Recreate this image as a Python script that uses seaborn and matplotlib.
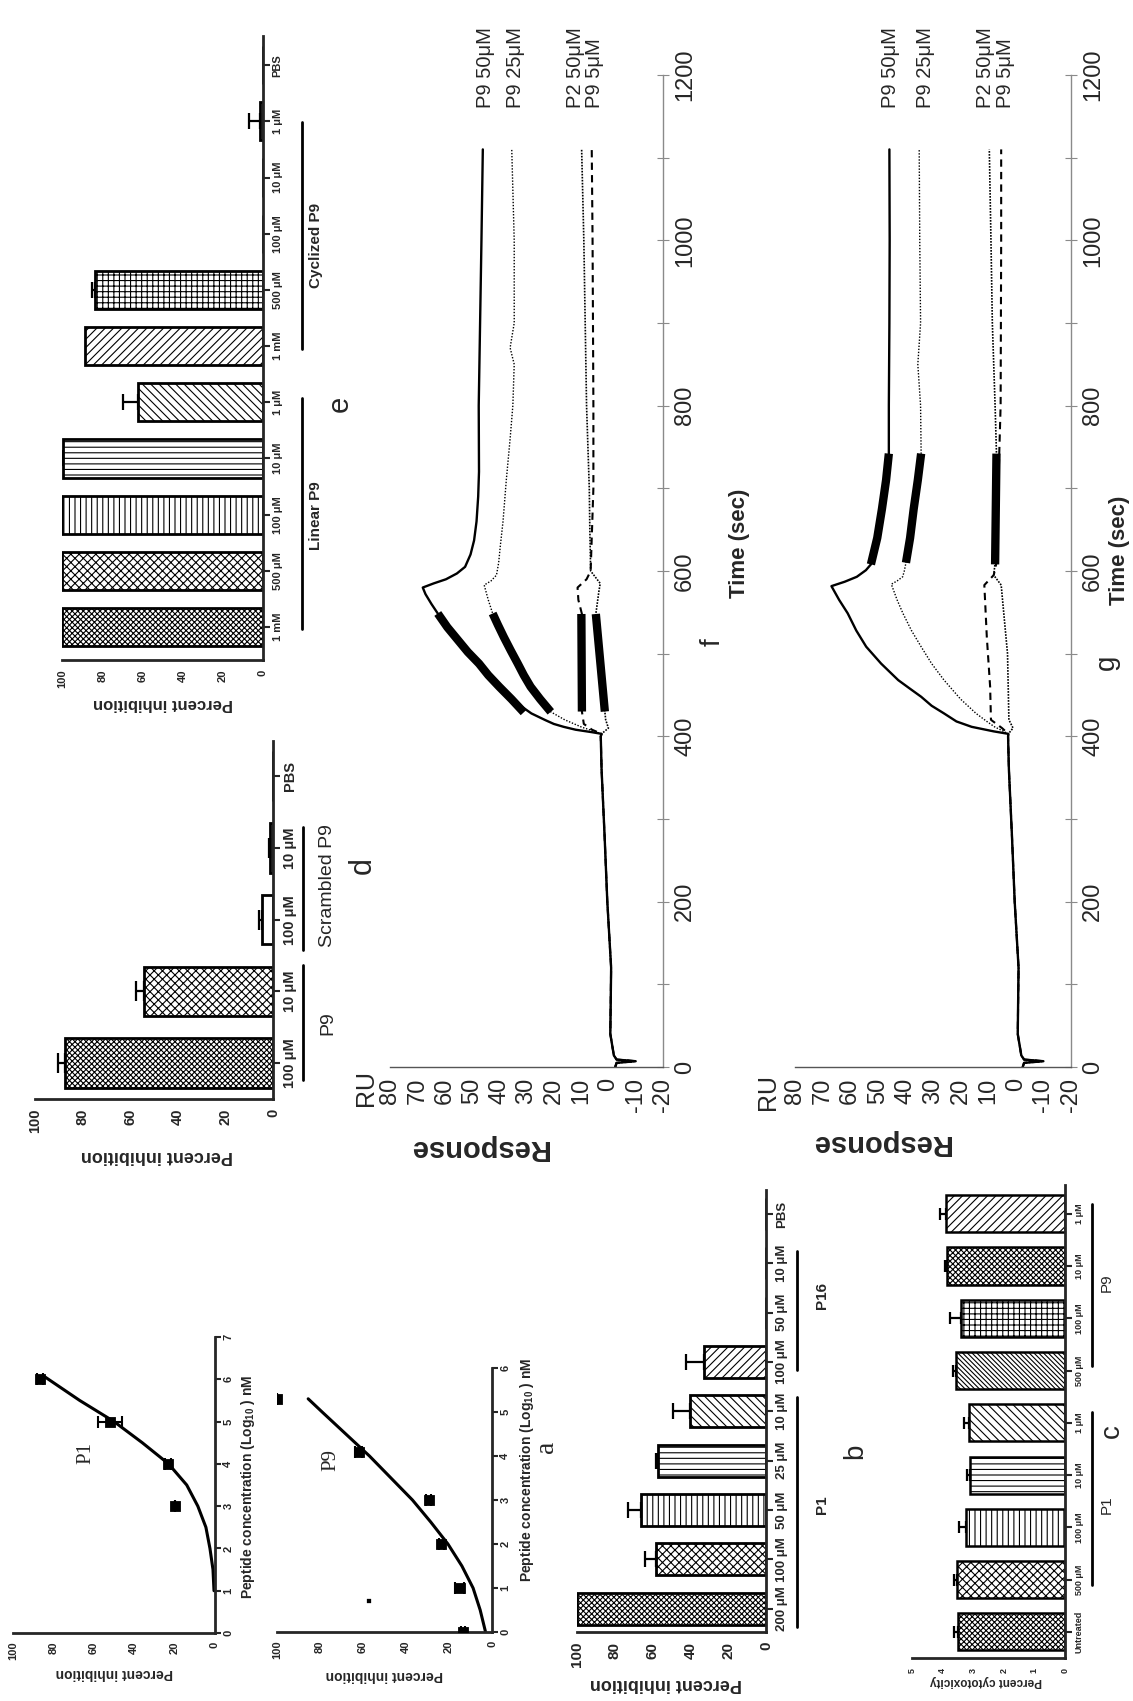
import numpy as np
import pandas as pd
import matplotlib
matplotlib.use("Agg")
import matplotlib.pyplot as plt
import seaborn as sns
from matplotlib.transforms import blended_transform_factory

# ---------------------------------------------------------------- data
# (e) linear vs cyclized P9, percent inhibition
e_labels = ["1 mM", "500 μM", "100 μM", "10 μM", "1 μM",
            "1 mM", "500 μM", "100 μM", "10 μM", "1 μM", "PBS"]
e_values = [100, 100, 100, 99.5, 62, 88.5, 83.5, 0, 0, 1.5, 0]
e_errors = [0, 0, 0, 0.5, 7.5, 0, 1.5, 0, 0, 5.5, 0]
e_groups = ["Linear P9", "Cyclized P9"]

# (d) P9 vs scrambled P9
d_labels = ["100 μM", "10 μM", "100 μM", "10 μM", "PBS"]
d_values = [87.5, 54, 4.8, 1.2, 0]
d_errors = [3, 3.5, 1, 0.5, 0]
d_groups = ["P9", "Scrambled P9"]

# (b) P1 and P16 inhibition
b_labels = ["200 μM", "100 μM", "50 μM", "25 μM", "10 μM",
            "100 μM", "50 μM", "10 μM", "PBS"]
b_values = [100, 58, 66, 57, 40, 33, 0, 0, 0]
b_errors = [0, 6, 7, 1, 9, 9.5, 0, 0, 0]
b_groups = ["P1", "P16"]

# (c) cytotoxicity
c_labels = ["Untreated", "500 μM", "100 μM", "10 μM", "1 μM",
            "500 μM", "100 μM", "10 μM", "1 μM"]
c_values = [3.51, 3.53, 3.23, 3.12, 3.13, 3.55, 3.40, 3.84, 3.89]
c_errors = [0.13, 0.10, 0.24, 0.08, 0.17, 0.11, 0.37, 0.07, 0.20]
c_groups = ["P1", "P9"]

# (a) dose response, log10 concentration (nM) vs percent inhibition
p1_conc = [3, 4, 5, 6]
p1_pct = [20, 23.5, 52, 86.5]
p1_err = [0, 1.5, 6, 1.5]
p1_fit_conc = [1.0, 1.5, 2.0, 2.5, 3.0, 3.5, 4.0, 4.5, 5.0, 5.5, 6.05]
p1_fit_pct = [0.5, 1, 2.5, 4.5, 8.5, 14, 23, 36, 50, 67, 84]

p9_conc = [0.0, 1.0, 2.0, 3.0, 4.1, 5.3]
p9_pct = [13.5, 15, 23.5, 29.5, 62, 100]
p9_err = [1, 2, 1, 1, 1.5, 0]
p9_extra_conc = [0.7]
p9_extra_pct = [57]
p9_fit_conc = [0, 0.5, 1, 1.5, 2, 2.5, 3, 3.5, 4, 4.5, 5, 5.3]
p9_fit_pct = [3, 5.5, 8.8, 14, 20.5, 28.5, 37, 47, 57, 68, 79, 85.5]

# (f, g) sensorgrams: time (s) and response (RU)
base_t = [0, 5, 7, 9, 14, 40, 120, 200, 280, 360, 400]
base_ru = [-2.5, -3, -10, -3, -2, -0.7, -1.0, 0.4, 1.4, 2.5, 2.8]

f_p9_50_t = [403, 405, 408, 411.5, 415, 419.6, 427.7, 440, 455, 470, 488, 502, 516,
             532, 548.6, 560, 572, 580, 585, 590, 597, 605, 620, 637, 660, 690, 720,
             800, 900, 1000, 1110]
f_p9_50_ru = [2.5, 6, 12, 16.4, 20, 23.1, 28.2, 33.5, 38.5, 43, 47.4, 51.5, 55,
              59, 62.5, 64.8, 67, 68, 64, 59.5, 55.5, 52.5, 50.5, 49.2, 48.3, 47.7, 47.4,
              47.5, 47, 46.5, 46]
f_p9_25_t = [403, 407, 411, 420, 429.6, 445, 460, 474, 488, 504, 520, 535, 548.6,
             565, 583, 588, 595, 610, 630, 660, 710, 760, 800, 850, 870, 900, 1000, 1110]
f_p9_25_ru = [2.5, 6, 9.7, 16, 21.1, 25, 28.5, 31, 33.2, 35.8, 38.3, 40.5, 42.4,
              44, 45.5, 43, 41, 40.2, 39.6, 38.6, 37.4, 36, 35, 34.5, 36, 34.5, 34.5, 35.4]
f_p2_50_t = [403, 410, 420, 430, 548, 575, 585, 600, 650, 700, 800, 900, 1000, 1110]
f_p2_50_ru = [2.5, 0, 1.0, 1.3, 4.6, 3.5, 3, 6.5, 6.8, 7, 8, 8.5, 9, 9.8]
f_p9_5_t = [403, 408, 415, 430, 548, 565, 580, 590, 600, 650, 700, 800, 1000, 1110]
f_p9_5_ru = [2.5, 6, 9, 9.7, 9.7, 11, 11.3, 8, 6.5, 6, 5.5, 5.5, 5.8, 6.1]

f_fit_p9_50_t = [429, 445, 460, 474, 488, 502, 516, 532, 548.6]
f_fit_p9_50_ru = [31, 35.5, 40, 44, 47.4, 51.5, 55, 59, 62.5]
f_fit_p9_25_t = [429.6, 445, 460, 474, 488, 504, 520, 535, 548.6]
f_fit_p9_25_ru = [21.1, 25, 28.5, 31, 33.2, 35.8, 38.3, 40.5, 42.4]
f_fit_p9_5_t = [430, 548]
f_fit_p9_5_ru = [9.7, 9.9]
f_fit_p2_50_t = [430, 548]
f_fit_p2_50_ru = [1.3, 4.6]

g_p9_50_t = [403, 406, 411.5, 418, 427.7, 437, 447.9, 458, 468, 488, 508.4, 528,
             548.8, 565, 581.7, 587, 593, 601, 608, 640, 675, 710, 742, 800, 900,
             1000, 1110]
g_p9_50_ru = [2.7, 8, 16, 21.5, 26, 30.5, 34.3, 38.5, 42.6, 48.8, 54.2, 57.8,
              60.9, 64, 66.8, 62, 57.6, 54.3, 52.5, 50.2, 48.5, 47, 46, 46, 45.8,
              45.7, 45.8]
g_p9_25_t = [403, 407, 411.5, 418, 427.7, 445, 468, 488, 508.4, 528, 548.8, 565,
             584, 588, 593, 600, 610, 640, 675, 710, 742, 800, 850, 900, 1000, 1110]
g_p9_25_ru = [2.7, 5, 7.7, 10.5, 14.4, 20, 26, 30.5, 34.3, 37.8, 40.9, 43,
              45.1, 43, 41, 40.4, 39.8, 38.3, 37, 35.5, 34.3, 34.5, 35.5, 34.5,
              34.8, 35]
g_p2_50_t = [403, 410, 420, 500, 583, 595, 610, 742, 800, 900, 1000, 1110]
g_p2_50_ru = [2.7, 1, 2.5, 3, 5.3, 8, 7.5, 7, 7.5, 8.5, 9, 9.6]
g_p9_5_t = [403, 410, 420, 460, 520, 583, 595, 610, 742, 800, 1000, 1110]
g_p9_5_ru = [2.7, 5, 9, 9.3, 10.5, 11.4, 8, 7, 6, 5.5, 5.3, 5.3]

g_fit_p9_50_t = [608, 640, 675, 710, 742]
g_fit_p9_50_ru = [52.5, 50.2, 48.5, 47, 46]
g_fit_p9_25_t = [610, 640, 675, 710, 742]
g_fit_p9_25_ru = [39.8, 38.3, 37, 35.5, 34.3]
g_fit_low_t = [608, 742]
g_fit_low_ru = [7.5, 7.0]

series_names = ["P9 50μM", "P9 25μM", "P2 50μM", "P9 5μM"]
f_label_ru = [45.1, 34.2, 12.2, 5.2]
g_label_ru = [45.5, 32.8, 10.8, 3.8]

# ---------------------------------------------------------------- style
sns.set_style("white")
plt.rcParams["font.family"] = ["Liberation Sans", "DejaVu Sans"]
plt.rcParams["mathtext.fontset"] = "custom"
plt.rcParams["mathtext.rm"] = "Liberation Sans"
plt.rcParams["mathtext.bf"] = "Liberation Sans:bold"
plt.rcParams["hatch.linewidth"] = 0.8
plt.rcParams["hatch.color"] = "black"

W, H = 1133, 1701
fig = plt.figure(figsize=(W / 100, H / 100), dpi=100)
fig.patch.set_facecolor("white")


def frac(x, y):
    return x / W, 1 - y / H


def add_ax(x0, y0, x1, y1):
    ax = fig.add_axes([x0 / W, 1 - y1 / H, (x1 - x0) / W, (y1 - y0) / H])
    ax.set_facecolor("none")
    return ax


def ftext(x, y, s, **kw):
    kw.setdefault("ha", "center")
    kw.setdefault("va", "center")
    fig.text(x / W, 1 - y / H, s, **kw)


def bar_panel(rect, labels, values, errors, hatches, vmax, vstep, ylim, width,
              cat_fs, val_fs, cap, lw=2.0):
    ax = add_ax(*rect)
    n = len(values)
    df = pd.DataFrame({"slot": np.arange(n), "value": values})
    sns.barplot(data=df, x="value", y="slot", orient="h", color="white",
                saturation=1, edgecolor="black", linewidth=lw, width=width,
                errorbar=None, ax=ax)
    for patch, h in zip(ax.patches, hatches):
        patch.set_facecolor("white")
        patch.set_hatch(h)
    v = np.asarray(values, float)
    e = np.asarray(errors, float)
    pos = np.arange(n)
    m = e > 0
    ax.errorbar(v[m], pos[m], xerr=[np.zeros(m.sum()), e[m]], fmt="none",
                ecolor="black", elinewidth=1.6, capsize=cap, capthick=1.6)
    ax.set_xlim(vmax, 0)
    ax.set_ylim(*ylim)
    ax.spines["top"].set_visible(False)
    ax.spines["left"].set_visible(False)
    for s in ("bottom", "right"):
        ax.spines[s].set_linewidth(2)
    ax.yaxis.tick_right()
    ax.set_yticks(pos, labels, rotation=90, va="center", ha="left",
                  fontsize=cat_fs, fontweight="bold")
    vt = np.arange(0, vmax + 0.001, vstep)
    ax.set_xticks(vt, [f"{t:g}" for t in vt], rotation=90,
                  fontsize=val_fs, fontweight="bold")
    ax.tick_params(axis="both", direction="out", length=5, width=1.5, pad=2)
    ax.tick_params(axis="y", left=False, right=True)
    ax.set_xlabel("")
    ax.set_ylabel("")
    return ax


def group(ax, x_line, x_text, y0, y1, yc, text, fs, weight="bold"):
    tr = blended_transform_factory(fig.transFigure, ax.transData)
    ax.plot([x_line / W, x_line / W], [y0, y1], transform=tr, color="black",
            lw=2, clip_on=False, scalex=False, scaley=False)
    ax.text(x_text / W, yc, text, transform=tr, rotation=90, ha="center",
            va="center", fontsize=fs, fontweight=weight)


def ylabel_180(ax, text, x, y, fs, weight="bold"):
    ax.set_xlabel(text, rotation=180, fontsize=fs, fontweight=weight,
                  ha="center", va="center")
    ax.xaxis.set_label_coords(*frac(x, y), transform=fig.transFigure)


DENSE = "xxxxxx"
CHECK = "xxxx"
BK = "\\" * 4
FW = "/" * 4

# ---------------------------------------------------------------- panel e
ax_e = bar_panel((62, 36, 263, 660), e_labels, e_values, e_errors,
                 [DENSE, CHECK, "|||", "---", BK, FW, "+++", "", "", "", ""],
                 100, 20, (-0.587, 10.52), 0.68, 8, 8, 6)
ylabel_180(ax_e, "Percent inhibition", 163, 703, 12)
group(ax_e, 302, 316, -0.04, 4.07, 1.98, e_groups[0], 11)
group(ax_e, 302, 316, 4.95, 8.99, 6.8, e_groups[1], 11)
ftext(340, 404, "e", rotation=90, fontsize=21)

# ---------------------------------------------------------------- panel d
ax_d = bar_panel((35, 741, 273, 1099), d_labels, d_values, d_errors,
                 [DENSE, CHECK, "", "", ""],
                 100, 20, (-0.50, 4.49), 0.69, 10.5, 10.5, 7)
ylabel_180(ax_d, "Percent inhibition", 157, 1155, 13)
group(ax_d, 303, 328, -0.24, 1.37, 0.56, d_groups[0], 14, "normal")
group(ax_d, 303, 328, 1.58, 3.29, 2.48, d_groups[1], 14, "normal")
ftext(363, 866, "d", rotation=90, fontsize=22)

# ---------------------------------------------------------------- panel b
ax_b = bar_panel((577, 1190, 766, 1632), b_labels, b_values, b_errors,
                 [DENSE, CHECK, "|||", "---", BK, FW, "", "", ""],
                 100, 20, (-0.475, 8.49), 0.65, 9.5, 11, 6)
ylabel_180(ax_b, "Percent inhibition", 666, 1683, 13)
group(ax_b, 797, 822, -0.37, 4.29, 2.1, b_groups[0], 11)
group(ax_b, 797, 822, 4.84, 7.25, 6.36, b_groups[1], 11)
ftext(855, 1451, "b", rotation=90, fontsize=20)

# ---------------------------------------------------------------- panel c
ax_c = bar_panel((912, 1185, 1065, 1658), c_labels, c_values, c_errors,
                 [DENSE, CHECK, "|||", "---", BK, "\\" * 7, "+++", DENSE, FW],
                 5, 1, (-0.5, 8.55), 0.71, 6.5, 6.5, 4, lw=1.8)
ylabel_180(ax_c, "Percent cytotoxicity", 986, 1681, 8.5)
group(ax_c, 1092, 1107, 0.9, 4.2, 2.43, c_groups[0], 11, "normal")
group(ax_c, 1092, 1107, 5.09, 8.18, 6.69, c_groups[1], 11, "normal")
ftext(1112, 1431, "c", rotation=90, fontsize=20)


# ---------------------------------------------------------------- panel a
def dose_panel(rect, conc, pct, err, fit_c, fit_p, cmax, name, name_xy,
               xlab_xy, ylab_xy, extra=None):
    ax = add_ax(*rect)
    sns.lineplot(x=fit_p, y=fit_c, orient="y", sort=False, estimator=None,
                 color="black", linewidth=2.2, ax=ax)
    ax.errorbar(pct, conc, xerr=err, fmt="none", ecolor="black",
                elinewidth=1.5, capsize=4, capthick=1.5)
    sns.scatterplot(x=pct, y=conc, marker="s", s=55, color="black",
                    edgecolor="black", ax=ax, zorder=3)
    if extra is not None:
        sns.scatterplot(x=extra[1], y=extra[0], marker="s", s=6,
                        color="black", edgecolor="black", ax=ax)
    ax.set_xlim(100, 0)
    ax.set_ylim(0, cmax)
    ax.spines["top"].set_visible(False)
    ax.spines["left"].set_visible(False)
    for s in ("bottom", "right"):
        ax.spines[s].set_linewidth(2)
    ax.yaxis.tick_right()
    ct = np.arange(0, cmax + 1)
    ax.set_yticks(ct, [str(c) for c in ct], rotation=90, va="center",
                  ha="left", fontsize=8, fontweight="bold")
    pt = np.arange(0, 101, 20)
    ax.set_xticks(pt, [str(p) for p in pt], rotation=90, fontsize=8,
                  fontweight="bold")
    ax.tick_params(axis="both", direction="out", length=4, width=1.5, pad=2)
    ax.tick_params(axis="y", left=False, right=True)
    ylabel_180(ax, "Percent inhibition", *xlab_xy, 10)
    ax.yaxis.set_label_position("right")
    ax.set_ylabel(r"Peptide concentration (Log$_{\mathbf{10}}$ ) nM",
                  rotation=90, fontsize=10, fontweight="bold",
                  ha="center", va="center")
    ax.yaxis.set_label_coords(*frac(*ylab_xy), transform=fig.transFigure)
    ftext(*name_xy, name, rotation=90, fontsize=15, family="Liberation Serif")
    return ax


dose_panel((13, 1337, 215, 1633), p1_conc, p1_pct, p1_err,
           p1_fit_conc, p1_fit_pct, 7, "P1", (86, 1453), (114, 1673), (248, 1487))
dose_panel((277, 1368, 492, 1632), p9_conc, p9_pct, p9_err,
           p9_fit_conc, p9_fit_pct, 6, "P9", (331, 1460), (384, 1675), (527, 1470),
           extra=(p9_extra_conc, p9_extra_pct))
ftext(547, 1447, "a", rotation=90, fontsize=20, family="Liberation Serif")


# ---------------------------------------------------------------- panels f, g
def spr_panel(rect, curves, fits, label_ru, letter_xy, letter, resp_xy, ru_xy,
              time_xy):
    ax = add_ax(*rect)
    for t, ru, ls, lw in curves:
        sns.lineplot(x=base_ru + ru, y=base_t + t, orient="y", sort=False,
                     estimator=None, color="black", linewidth=lw,
                     linestyle=ls, ax=ax)
    for t, ru in fits:
        sns.lineplot(x=ru, y=t, orient="y", sort=False, estimator=None,
                     color="black", linewidth=6, solid_capstyle="butt", ax=ax)
    ax.set_xlim(80, -20)
    ax.set_ylim(0, 1200)
    ax.spines["top"].set_visible(False)
    ax.spines["left"].set_visible(False)
    ax.spines["right"].set_color("#8a8a8a")
    ax.spines["right"].set_linewidth(1)
    ax.spines["bottom"].set_color("#555555")
    ax.spines["bottom"].set_linewidth(1)
    ax.yaxis.tick_right()
    tt = np.arange(0, 1201, 200)
    ax.set_yticks(tt, [str(t) for t in tt], rotation=90, va="center",
                  ha="left", fontsize=17)
    ax.set_yticks(np.arange(100, 1200, 200), minor=True)
    rt = np.arange(-20, 81, 10)
    ax.set_xticks(rt, [str(r) for r in rt], rotation=90, fontsize=17)
    ax.tick_params(axis="y", which="both", direction="inout", length=8,
                   width=0.8, color="#8a8a8a", left=False, right=True, pad=4)
    ax.tick_params(axis="x", direction="inout", length=8, width=0.8,
                   color="#555555", pad=4)
    ax.set_xlabel("Response", rotation=180, fontsize=21, fontweight="bold",
                  ha="center", va="center")
    ax.xaxis.set_label_coords(*frac(*resp_xy), transform=fig.transFigure)
    ax.yaxis.set_label_position("right")
    ax.set_ylabel("Time (sec)", rotation=90, fontsize=16, fontweight="bold",
                  ha="center", va="center")
    ax.yaxis.set_label_coords(*frac(*time_xy), transform=fig.transFigure)
    for name, r in zip(series_names, label_ru):
        ax.text(r, 1160, name, rotation=90, ha="center", va="bottom",
                fontsize=14.5, clip_on=False)
    ftext(*ru_xy, "RU", rotation=90, fontsize=18)
    ftext(*letter_xy, letter, rotation=90, fontsize=20)
    return ax


spr_panel((390, 75, 663, 1067),
          [(f_p9_50_t, f_p9_50_ru, "-", 1.7),
           (f_p9_25_t, f_p9_25_ru, (0, (1, 1.2)), 1.0),
           (f_p2_50_t, f_p2_50_ru, (0, (1, 0.8)), 1.2),
           (f_p9_5_t, f_p9_5_ru, (0, (3.5, 2.5)), 1.5)],
          [(f_fit_p9_50_t, f_fit_p9_50_ru), (f_fit_p9_25_t, f_fit_p9_25_ru),
           (f_fit_p9_5_t, f_fit_p9_5_ru), (f_fit_p2_50_t, f_fit_p2_50_ru)],
          f_label_ru, (713, 642), "f", (478, 1148), (366, 1088), (740, 543))

spr_panel((795, 75, 1071, 1067),
          [(g_p9_50_t, g_p9_50_ru, "-", 1.7),
           (g_p9_25_t, g_p9_25_ru, (0, (1, 1.2)), 1.0),
           (g_p2_50_t, g_p2_50_ru, (0, (1, 0.8)), 1.2),
           (g_p9_5_t, g_p9_5_ru, (0, (3.5, 2.5)), 1.5)],
          [(g_fit_p9_50_t, g_fit_p9_50_ru), (g_fit_p9_25_t, g_fit_p9_25_ru),
           (g_fit_low_t, g_fit_low_ru)],
          g_label_ru, (1107, 662), "g", (880, 1143), (768, 1092), (1119, 550))

fig.savefig("out.png", dpi=100, facecolor="white")
